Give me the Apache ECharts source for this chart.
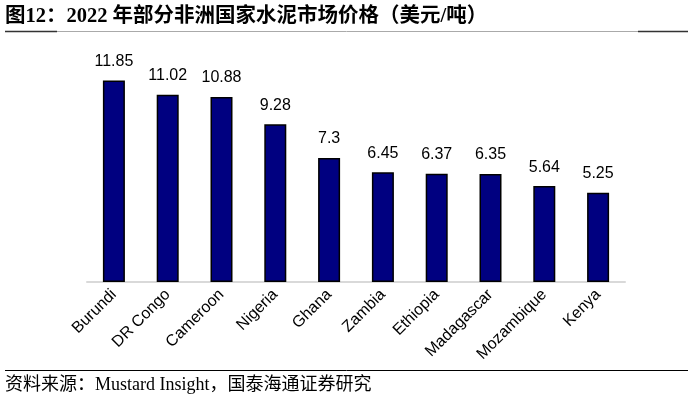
<!DOCTYPE html>
<html lang="zh">
  <head>
    <meta charset="UTF-8" />
    <title>2022 年部分非洲国家水泥市场价格</title>
    <script src="https://cdn.jsdelivr.net/npm/echarts@6/dist/echarts.min.js"></script>
    <style>
      html, body { margin: 0; padding: 0; background: #fff; }
      #main { width: 692px; height: 399px; }
    </style>
  </head>
  <body>
    <div id="main"></div>
    <script>
      const countries = ["Burundi", "DR Congo", "Cameroon", "Nigeria", "Ghana",
        "Zambia", "Ethiopia", "Madagascar", "Mozambique", "Kenya"];
      const prices = [11.85, 11.02, 10.88, 9.28, 7.3, 6.45, 6.37, 6.35, 5.64, 5.25];

      const serif = "'Liberation Serif', 'Times New Roman', 'Noto Sans CJK SC', serif";
      const sans = "Liberation Sans, Arial, sans-serif";

      const chart = echarts.init(document.getElementById("main"));
      const option = {
        animation: false,
        backgroundColor: "#fff",
        grid: { left: 87, right: 67, top: 44, bottom: 117 },
        xAxis: {
          type: "category",
          data: countries,
          axisLine: { lineStyle: { color: "#d9d9d9", width: 2 } },
          axisTick: { show: false },
          axisLabel: {
            rotate: 45,
            interval: 0,
            color: "#000",
            fontFamily: sans,
            fontSize: 16,
            margin: 10
          }
        },
        yAxis: {
          type: "value",
          min: 0,
          max: 14,
          show: false,
          splitLine: { show: false }
        },
        series: [
          {
            type: "bar",
            data: prices,
            barWidth: 22,
            itemStyle: { color: "#000080", borderColor: "#000", borderWidth: 1.5 },
            label: {
              show: true,
              position: "top",
              distance: 11,
              color: "#000",
              fontFamily: sans,
              fontSize: 16
            }
          }
        ],
        graphic: [
          {
            type: "text",
            left: 5,
            top: 6,
            style: {
              text: "图12：2022 年部分非洲国家水泥市场价格（美元/吨）",
              font: "bold 20.5px " + serif,
              fill: "#000"
            }
          },
          {
            type: "line",
            shape: { x1: 5, y1: 31.5, x2: 688, y2: 31.5 },
            style: { stroke: "#aaa", lineWidth: 1 }
          },
          {
            type: "line",
            shape: { x1: 5, y1: 31.5, x2: 57, y2: 31.5 },
            style: { stroke: "#333", lineWidth: 1.5 }
          },
          {
            type: "line",
            shape: { x1: 638, y1: 31.5, x2: 688, y2: 31.5 },
            style: { stroke: "#333", lineWidth: 1.5 }
          },
          {
            type: "line",
            shape: { x1: 5, y1: 370.5, x2: 688, y2: 370.5 },
            style: { stroke: "#000", lineWidth: 1 }
          },
          {
            type: "text",
            left: 5,
            top: 376,
            style: {
              text: "资料来源：Mustard Insight，国泰海通证券研究",
              font: "18px " + serif,
              fill: "#000"
            }
          }
        ]
      };
      chart.setOption(option);
    </script>
  </body>
</html>
